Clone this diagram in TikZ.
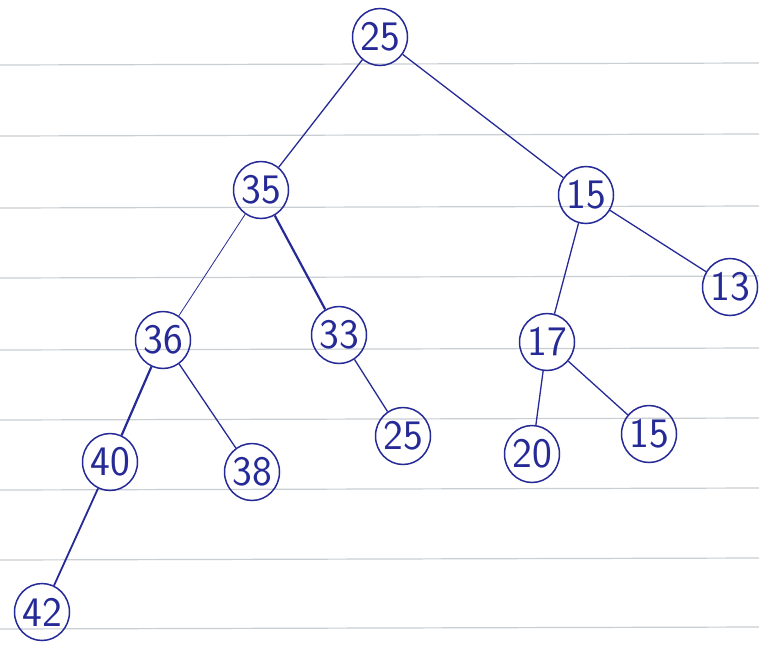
\documentclass[tikz,border=0pt]{standalone}
\usepackage{fontspec}
\usepackage{tikz}
\usetikzlibrary{shapes.geometric}
\definecolor{ink}{RGB}{38,42,150}
\definecolor{ruled}{RGB}{200,206,210}

\begin{document}
\begin{tikzpicture}[
                    x=1pt, y=-1pt,
                    every node/.style={font=\sffamily\fontsize{42}{42}\selectfont, text=ink},
                    key/.style={ellipse, draw=ink, line width=1.5pt, inner sep=-3pt, minimum width=55pt, minimum height=57pt},
                    edge/.style={draw=ink, line width=1.3pt}
                ]
                    \useasboundingbox (0,0) rectangle (759,654);
                    \fill[white] (0,0) rectangle (759,654);
                    % ruled paper
                    \foreach \y in {65,136,208,278,350,420,490,560,629}
                        \draw[ruled, line width=1.2pt] (0,\y) -- (759,\y-2);
                    % keys
                    \node[key] (r25) at (380,37) {25};
                    \node[key] (a35) at (261,190) {35};
                    \node[key] (b15) at (586,195) {15};
                    \node[key] (a36) at (163,340) {36};
                    \node[key] (a33) at (339,335) {33};
                    \node[key] (b17) at (547,342) {17};
                    \node[key] (b13) at (730,287) {13};
                    \node[key] (a40) at (110,462) {40};
                    \node[key] (a38) at (252,472) {38};
                    \node[key] (a25) at (403,436) {25};
                    \node[key] (b20) at (532,454) {20};
                    \node[key] (b15x) at (649,434) {15};
                    \node[key] (a42) at (42,612) {42};
                    % links
                    \draw[edge] (r25) -- (a35);
                    \draw[edge] (r25) -- (b15);
                    \draw[edge, line width=0.8pt] (a35) -- (a36);
                    \draw[edge, line width=2.2pt] (a35) -- (a33);
                    \draw[edge] (b15) -- (b17);
                    \draw[edge] (b15) -- (b13);
                    \draw[edge, line width=2.2pt] (a36) -- (a40);
                    \draw[edge] (a36) -- (a38);
                    \draw[edge] (a33) -- (a25);
                    \draw[edge] (b17) -- (b20);
                    \draw[edge] (b17) -- (b15x);
                    \draw[edge, line width=1.8pt] (a40) -- (a42);
                \end{tikzpicture}
\end{document}
